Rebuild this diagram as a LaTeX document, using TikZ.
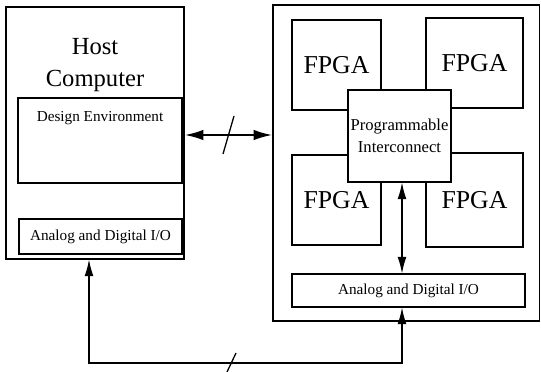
\documentclass[tikz,border=0pt]{standalone}
\usepackage{fontspec}
\setmainfont{Liberation Serif}
\usetikzlibrary{arrows.meta}

\begin{document}
\begin{tikzpicture}[x=0.03cm, y=-0.03cm, line width=1.1pt,
    box/.style 2 args={draw, inner sep=0pt, minimum width={#1*0.03cm}, minimum height={#2*0.03cm}},
    small/.style={font=\fontsize{13}{15}\selectfont},
    big/.style={font=\fontsize{22}{26}\selectfont},
    bus/.style={{Latex[length=14pt,width=7.5pt]}-{Latex[length=14pt,width=7.5pt]}, line width=0.9pt}]
  \useasboundingbox (0,0) rectangle (541,372);
  % host side
  \node[box={178}{252}] (host) at (95,133) {};
  \node[font=\fontsize{21}{27}\selectfont, align=center] (hosttitle) at (95,65) {Host\\Computer};
  \node[box={164}{85}] (design) at (100,140.5) {};
  \node[small] (designtext) at (100,118) {Design Environment};
  \node[box={163}{35}, small] (hio) at (100.5,236.5) {Analog and Digital I/O};
  % board side
  \node[box={266.5}{316}] (board) at (406.25,163) {};
  \node[box={89}{90}, big] (fpgaA) at (336.5,65) {FPGA};
  \node[box={97}{90}, big] (fpgaB) at (474.5,63) {FPGA};
  \node[box={89}{90}, big] (fpgaC) at (336.5,200) {FPGA};
  \node[box={97}{94}, big] (fpgaD) at (474.5,200) {FPGA};
  \node[box={103}{92}, fill=white, align=center, font=\fontsize{14.2}{19}\selectfont]
    (inter) at (399.5,136) {Programmable\\Interconnect};
  \node[box={233}{33}, small] (bio) at (408.5,290.5) {Analog and Digital I/O};
  % links
  \coordinate (linkmid) at (228,135);
  \draw[bus, line width=1.8pt, {Latex[length=16pt,width=9pt]}-{Latex[length=16pt,width=9pt]}]
    (host.east |- linkmid) -- (board.west |- linkmid);
  \draw (linkmid) ++(-5,19) -- ++(11,-38);
  \coordinate (busL) at (89,363);
  \coordinate (busR) at (402,363);
  \coordinate (busmid) at (231,363);
  \draw[bus] (inter.south -| busR) -- (bio.north -| busR);
  \draw[bus] (host.south -| busL) -- (busL) -- (busR) -- (bio.south -| busR);
  \draw (busmid) ++(-4,9) -- ++(9,-19);
\end{tikzpicture}
\end{document}
